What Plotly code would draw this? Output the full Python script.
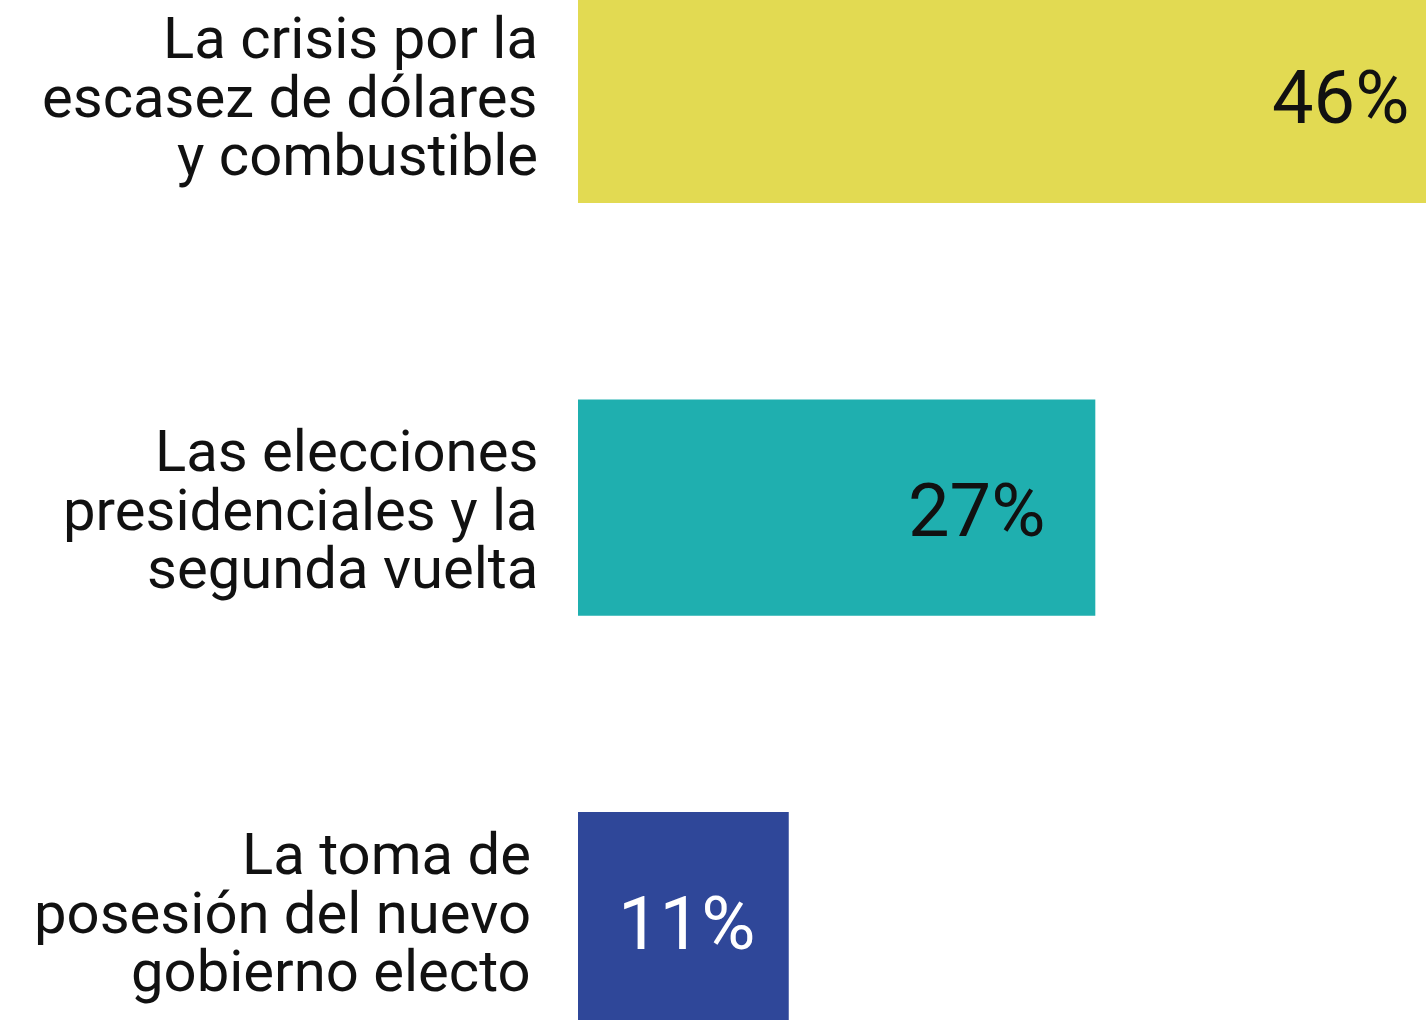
import plotly.graph_objects as go

# ---- data ----
label_lines = [
    ["La crisis por la", "escasez de dólares", "y combustible"],
    ["Las elecciones", "presidenciales y la", "segunda vuelta"],
    ["La toma de", "posesión del nuevo", "gobierno electo"],
]
values = [46, 27, 11]
value_labels = ["46%", "27%", "11%"]

# ---- styles ----
bar_colors = ["#E2DA52", "#1FAFAF", "#2F4799"]
value_text_colors = ["#111111", "#111111", "#FFFFFF"]
label_right_pad = [38, 38, 45]
label_block_shift = [0, 0, -9]
line_shifts = [57, -2, -60]   # pixel offsets of the three lines (yshift up positive)
value_pad = [48, 48, 32]

FONT = "Roboto"
XMAX = 44.26
pos = list(range(len(values)))

fig = go.Figure()
fig.add_trace(go.Bar(
    x=values, y=pos, orientation="h",
    marker=dict(color=bar_colors, line=dict(width=0)),
    width=0.524, hoverinfo="skip",
))

# value labels: placed at the bar end (converted to paper fraction of the x range)
for i, (v, t) in enumerate(zip(values, value_labels)):
    fig.add_annotation(
        x=v / XMAX, xref="paper", xanchor="right", xshift=-value_pad[i],
        y=pos[i], yref="y", yanchor="middle", yshift=-3,
        text=t, showarrow=False,
        font=dict(family=FONT, size=74, color=value_text_colors[i]),
    )

for i, lines in enumerate(label_lines):
    for j, line in enumerate(lines):
        fig.add_annotation(
            x=0, xref="paper", xanchor="right", xshift=-label_right_pad[i],
            y=pos[i], yref="y", yanchor="middle",
            yshift=line_shifts[j] - label_block_shift[i],
            text=line, showarrow=False,
            font=dict(family=FONT, size=58, color="#111111"),
        )

fig.update_layout(
    width=1426, height=1020,
    margin=dict(l=578, r=0, t=0, b=0),
    paper_bgcolor="white", plot_bgcolor="white",
    showlegend=False,
    xaxis=dict(range=[0, XMAX], visible=False, fixedrange=True),
    yaxis=dict(range=[2.242, -0.230], visible=False, fixedrange=True),
)

fig.write_html(
    "out.html",
    config={"displayModeBar": False},
    post_script="document.body.style.margin='0';document.body.style.overflow='hidden';",
)
